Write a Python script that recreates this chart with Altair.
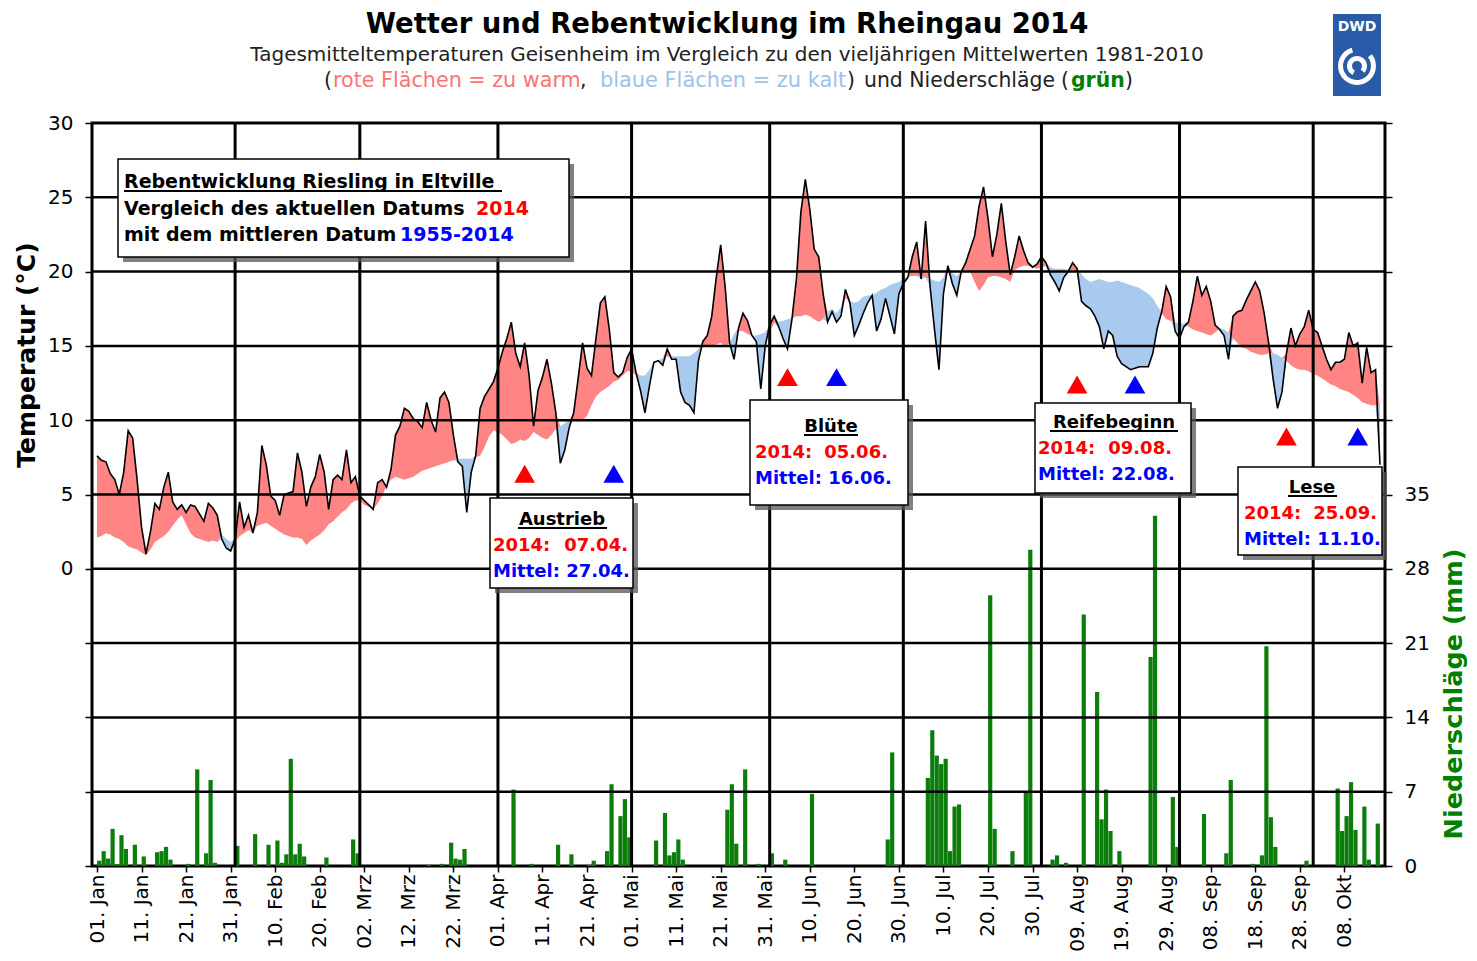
import altair as alt
import pandas as pd

FONT = "DejaVu Sans"
RED_FILL = "#ff8484"
BLUE_FILL = "#a8caee"
GREEN = "#0a7d0a"

# ---------------- data (day 0 = 01 Jan 2014) ----------------
temp_2014 = [
    7.6, 7.3, 7.2, 6.4, 6.0, 5.0, 6.5, 9.3, 8.8, 6.0,
    2.8, 1.0, 2.5, 4.4, 4.0, 5.5, 6.5, 4.5, 4.0, 4.3,
    3.8, 4.3, 4.2, 3.7, 3.2, 4.4, 4.1, 3.6, 2.0, 1.4,
    1.2, 2.0, 4.5, 2.8, 3.6, 2.4, 3.8, 8.3, 7.0, 4.9,
    4.6, 3.6, 5.0, 5.1, 5.2, 7.8, 6.5, 4.2, 5.5, 6.2,
    7.7, 6.5, 4.0, 6.0, 6.3, 6.0, 8.0, 5.8, 6.2, 4.9,
    4.6, 4.3, 4.0, 5.8, 6.0, 5.5, 6.7, 9.0, 9.6, 10.8,
    10.6, 10.1, 9.9, 9.5, 11.2, 10.0, 9.2, 11.5, 11.9, 11.2,
    9.0, 7.2, 6.9, 3.8, 6.5, 7.6, 10.8, 11.6, 12.1, 12.6,
    13.5, 14.6, 15.5, 16.6, 14.5, 13.6, 15.2, 13.0, 9.6, 12.0,
    12.9, 14.1, 12.5, 10.5, 7.1, 8.0, 9.5, 10.5, 12.8, 15.2,
    13.5, 13.0, 15.5, 17.9, 18.3, 16.1, 13.2, 12.9, 13.2, 14.2,
    14.8, 13.2, 12.0, 10.5, 12.3, 13.9, 14.0, 13.7, 14.8, 14.1,
    14.1, 11.9, 11.2, 11.0, 10.5, 14.0, 15.3, 15.7, 17.0, 19.6,
    21.8, 19.0, 15.2, 14.1, 16.2, 17.2, 16.7, 15.7, 15.3, 12.1,
    15.0, 16.4, 17.0, 16.3, 15.5, 14.8, 16.8, 19.5, 24.0, 26.2,
    24.2, 21.5, 21.0, 18.5, 16.6, 17.3, 16.6, 17.0, 18.8, 17.9,
    15.7, 16.4, 17.2, 17.9, 18.4, 16.0, 16.8, 18.2, 17.0, 15.8,
    18.5, 19.2, 19.6, 21.0, 22.0, 19.5, 23.4, 19.0, 16.1, 13.4,
    18.5, 20.4, 19.2, 18.4, 20.0, 20.6, 21.5, 22.4, 24.4, 25.7,
    23.6, 21.0, 22.5, 24.6, 22.0, 19.8, 21.0, 22.4, 21.4, 20.6,
    20.3, 20.5, 21.0, 20.6, 19.8, 19.3, 18.7, 19.6, 20.0, 20.6,
    20.2, 18.0, 17.7, 17.5, 17.0, 16.3, 14.8, 16.0, 15.7, 14.3,
    13.8, 13.6, 13.4, 13.5, 13.6, 13.6, 13.6, 14.5, 16.2, 17.3,
    19.0, 18.3, 16.0, 15.5, 16.3, 16.6, 18.0, 19.7, 18.4, 19.0,
    18.0, 16.4, 16.1, 15.7, 14.1, 17.0, 17.3, 17.4, 18.1, 18.7,
    19.3, 18.7, 17.2, 15.2, 12.8, 10.8, 11.9, 14.5, 16.2, 15.0,
    15.8, 16.3, 17.4, 16.1, 15.9, 15.0, 14.1, 13.4, 13.9, 13.9,
    14.1, 15.9, 15.0, 15.2, 12.5, 14.9, 13.2, 13.4, 7.0,
]

mean_1981_2010 = [
    2.1, 2.2, 2.4, 2.3, 2.1, 2.0, 1.8, 1.5, 1.4, 1.3,
    1.1, 0.9, 1.3, 1.8, 2.0, 2.2, 2.5, 2.9, 3.3, 3.6,
    3.0, 2.4, 2.1, 2.0, 1.9, 1.8, 1.9, 1.8, 2.3, 2.0,
    1.8, 1.8, 2.2, 2.4, 2.6, 2.7, 2.9, 3.0, 3.1, 2.9,
    2.7, 2.5, 2.3, 2.2, 2.1, 2.1, 2.0, 1.6, 1.9, 2.1,
    2.3, 2.6, 3.0, 3.2, 3.5, 3.8, 4.0, 4.4, 4.6, 4.6,
    4.3, 4.2, 4.0, 4.4, 4.9, 5.6, 6.0, 6.2, 6.1, 6.0,
    6.1, 6.2, 6.4, 6.6, 6.7, 6.8, 6.9, 7.0, 7.1, 7.2,
    7.3, 7.4, 7.4, 7.4, 7.4, 7.5, 7.6, 8.2, 8.9, 9.3,
    9.2, 9.0, 8.7, 8.4, 8.5, 8.7, 8.6, 8.8, 9.2, 9.0,
    8.8, 8.7, 9.0, 9.4, 9.6, 9.8, 10.0, 10.1, 9.9, 10.0,
    10.3, 11.0, 11.6, 11.9, 12.1, 12.3, 12.6, 12.7, 13.0, 13.3,
    13.3, 13.0, 13.0, 13.0, 13.4, 13.8, 14.0, 14.2, 14.3, 14.3,
    14.3, 14.3, 14.3, 14.3, 14.5, 14.8, 15.1, 15.0, 14.9, 15.1,
    15.2, 15.0, 15.2, 15.8, 16.0, 16.0, 15.8, 15.7, 15.7, 15.8,
    15.9, 16.0, 16.5, 16.6, 16.7, 16.8, 16.9, 17.0, 17.0, 17.1,
    17.0, 16.8, 16.6, 16.8, 17.3, 17.5, 17.2, 17.6, 18.2, 18.0,
    17.9, 18.0, 18.3, 18.4, 18.4, 18.6, 18.8, 18.9, 19.1, 19.2,
    19.3, 19.5, 19.7, 19.7, 19.7, 19.7, 19.6, 19.5, 19.4, 19.3,
    19.6, 20.0, 19.9, 19.7, 19.9, 20.1, 20.0, 19.3, 18.7, 19.1,
    19.6, 19.7, 19.7, 19.6, 19.5, 19.3, 20.1, 20.3, 20.4, 20.4,
    20.3, 20.2, 20.3, 20.4, 20.3, 20.2, 20.2, 20.2, 20.1, 20.1,
    20.0, 19.8, 19.5, 19.3, 19.4, 19.5, 19.4, 19.3, 19.3, 19.4,
    19.3, 19.2, 19.1, 19.0, 18.9, 18.7, 18.5, 18.2, 17.7, 17.2,
    16.8, 16.7, 16.6, 16.5, 16.5, 16.3, 16.1, 16.0, 15.9, 15.8,
    15.7, 15.9, 16.2, 16.1, 15.9, 15.5, 15.2, 14.9, 14.8, 14.6,
    14.5, 14.4, 14.4, 14.5, 14.5, 14.4, 14.2, 14.0, 13.7, 13.5,
    13.4, 13.4, 13.3, 13.1, 13.0, 12.8, 12.6, 12.4, 12.3, 12.1,
    12.0, 11.9, 11.7, 11.5, 11.2, 11.1, 11.0, 11.0, 10.9,
]

precip_days = [0, 1, 2, 3, 4, 5, 6, 8, 10, 13, 14, 15, 16, 20, 22, 24, 25, 26, 31, 35,
               38, 40, 41, 42, 43, 44, 45, 46, 51, 57, 58,
               74, 77, 79, 80, 81, 82, 93, 97, 103, 106, 110, 111, 114, 115, 117, 118, 119, 125, 127, 128,
               129, 130, 131, 141, 142, 143, 145, 148, 151, 154, 160, 177, 178, 179, 186, 187, 188, 189, 190, 191,
               192, 193, 200, 201, 205, 208, 209, 214, 215, 217, 221, 224, 225, 226, 227, 229, 236, 237, 241, 242,
               248, 253, 254, 259, 261, 262, 263, 264, 271, 278, 279, 280, 281, 282, 284, 285, 287]
precip_mm = [0.5, 1.4, 0.7, 3.5, 0.2, 2.9, 1.6, 2.0, 0.9, 1.3, 1.4, 1.8, 0.6, 0.2, 9.1, 1.2, 8.1, 0.3, 1.9, 3.0,
             2.0, 2.4, 0.3, 1.1, 10.1, 1.1, 2.1, 0.9, 0.8, 2.5, 1.2,
             0.1, 0.2, 2.2, 0.7, 0.6, 1.6, 7.2, 0.2, 2.0, 1.1, 0.1, 0.5, 1.4, 7.7, 4.7, 6.3, 2.7, 2.4, 5.0, 1.0,
             1.3, 2.5, 0.6, 5.3, 7.7, 2.1, 9.1, 0.2, 1.2, 0.6, 6.8, 2.5, 10.7, 0.1, 8.3, 12.8, 10.4, 9.6, 10.1, 1.4,
             5.6, 5.8, 25.5, 3.5, 1.4, 7.0, 29.8, 0.6, 1.0, 0.3, 23.7, 16.4, 4.4, 7.2, 3.3, 1.4, 19.7, 33.0, 6.5, 1.8,
             4.9, 1.2, 8.1, 0.2, 1.0, 20.7, 4.6, 1.8, 0.5, 7.3, 3.3, 4.7, 7.9, 3.4, 5.6, 0.6, 4.0]

tick_days = list(range(0, 281, 10))
tick_labels = ["01. Jan", "11. Jan", "21. Jan", "31. Jan", "10. Feb", "20. Feb", "02. Mrz", "12. Mrz",
               "22. Mrz", "01. Apr", "11. Apr", "21. Apr", "01. Mai", "11. Mai", "21. Mai", "31. Mai",
               "10. Jun", "20. Jun", "30. Jun", "10. Jul", "20. Jul", "30. Jul", "09. Aug", "19. Aug",
               "29. Aug", "08. Sep", "18. Sep", "28. Sep", "08. Okt"]
month_starts = [31, 59, 90, 120, 151, 181, 212, 243, 273]
temp_ticks = list(range(-20, 31, 5))
temp_grid = list(range(-15, 26, 5))
precip_ticks = list(range(0, 71, 7))

phases = ["Austrieb", "Blüte", "Reifebeginn", "Lese"]
date_2014 = ["07.04.", "05.06.", "09.08.", "25.09."]
date_mean = ["27.04.", "16.06.", "22.08.", "11.10."]
day_2014 = [96, 155, 220, 267]
day_mean = [116, 166, 233, 283]
marker_level = [6.4, 12.9, 12.4, 8.9]

assert len(temp_2014) == 289 and len(mean_1981_2010) == 289
assert len(precip_days) == len(precip_mm)

# ---------------- helpers ----------------
X0, Y0 = 92, 123  # page position of plot origin
W, H = 1293, 743


def px(x):
    return x - X0


def py(y):
    return y - Y0


one = pd.DataFrame({"k": [0]})


def text(s, x, y, size, color="black", weight="normal", align="left", angle=0, baseline="alphabetic"):
    return alt.Chart(one).mark_text(
        text=s, font=FONT, fontSize=size, fontWeight=weight, color=color,
        align=align, baseline=baseline, angle=angle
    ).encode(x=alt.value(px(x)), y=alt.value(py(y)))


def rect(x1, y1, x2, y2, **kw):
    return alt.Chart(one).mark_rect(**kw).encode(
        x=alt.value(px(x1)), x2=alt.value(px(x2)), y=alt.value(py(y1)), y2=alt.value(py(y2)))


def box(x1, y1, x2, y2):
    return [rect(x1 + 5, y1 + 5, x2 + 5, y2 + 5, color="#555555", opacity=0.75),
            rect(x1, y1, x2, y2, fill="white", stroke="black", strokeWidth=1.5)]


def uline(x1, x2, y):
    return alt.Chart(one).mark_rule(color="black", strokeWidth=2).encode(
        x=alt.value(px(x1)), x2=alt.value(px(x2)), y=alt.value(py(y)))


XS = alt.Scale(domain=[0, 288], nice=False, zero=False)
YS = alt.Scale(domain=[-20, 30], nice=False, zero=False)
PS = alt.Scale(domain=[0, 70], nice=False, zero=True)

label_array = "[" + ",".join("'%s'" % s for s in tick_labels) + "]"
XAXIS = alt.Axis(values=tick_days, labelExpr=label_array + "[round(datum.value/10)]",
                 labelAngle=270, tickSize=6, tickColor="black", tickWidth=1.5, domain=False,
                 grid=False, labelFont=FONT, labelFontSize=20, labelColor="black", labelPadding=2,
                 labelOverlap=False, labelFlush=False, labelBound=False, title=None)
YAXIS = alt.Axis(values=temp_ticks, labelExpr="datum.value < 0 ? '' : datum.label", tickSize=7,
                 tickColor="black", tickWidth=1.5, domain=False, grid=False, labelFont=FONT,
                 labelFontSize=20, labelColor="black", labelPadding=12, title=None)
PAXIS = alt.Axis(orient="right", values=precip_ticks, labelExpr="datum.value > 35 ? '' : datum.label",
                 tickSize=7, tickColor="black", tickWidth=1.5, domain=False, grid=False, labelFont=FONT,
                 labelFontSize=20, labelColor="black", labelPadding=12, title=None)


def X(field):
    return alt.X(field, scale=XS, axis=XAXIS)


# ---------------- temperature areas ----------------
df = pd.DataFrame({"day": list(range(289)), "t": temp_2014, "m": mean_1981_2010})
base = alt.Chart(df).transform_calculate(hi="max(datum.t, datum.m)", lo="min(datum.t, datum.m)")
red_area = base.mark_area(color=RED_FILL, opacity=1).encode(
    x=X("day:Q"), y=alt.Y("hi:Q", scale=YS, axis=YAXIS), y2="m:Q")
blue_area = base.mark_area(color=BLUE_FILL, opacity=1).encode(
    x=X("day:Q"), y=alt.Y("lo:Q", scale=YS, axis=YAXIS), y2="m:Q")
bottom = alt.layer(red_area, blue_area)

# ---------------- precipitation ----------------
dfp = pd.DataFrame({"day": precip_days, "mm": precip_mm})
precip = alt.Chart(dfp).transform_calculate(pos="datum.day + 0.5").mark_bar(
    width=4.2, color=GREEN).encode(
    x=X("pos:Q"), y=alt.Y("mm:Q", scale=PS, axis=PAXIS))

# ---------------- grid, line, markers ----------------
hgrid = alt.Chart(pd.DataFrame({"t": temp_grid})).mark_rule(color="black", strokeWidth=2.5).encode(
    y=alt.Y("t:Q", scale=YS, axis=None))
vgrid = alt.Chart(pd.DataFrame({"d": month_starts})).mark_rule(color="black", strokeWidth=3).encode(
    x=X("d:Q"))
tline = alt.Chart(df).mark_line(color="black", strokeWidth=1.6).encode(
    x=X("day:Q"), y=alt.Y("t:Q", scale=YS, axis=None))

dft = pd.DataFrame({"day": day_2014 + day_mean, "lvl": marker_level + marker_level,
                    "kind": ["2014"] * 4 + ["Mittel"] * 4})
tri = alt.Chart(dft).mark_point(shape="triangle-up", filled=True, size=430, opacity=1).encode(
    x=X("day:Q"), y=alt.Y("lvl:Q", scale=YS, axis=None),
    color=alt.Color("kind:N", scale=alt.Scale(domain=["2014", "Mittel"], range=["#ff0000", "#0000ff"]),
                    legend=None))

layers = [hgrid, vgrid, tline, tri]

# legend box
layers += box(118, 159, 569, 257)
layers += [
    text("Rebentwicklung Riesling in Eltville", 124, 188, 19, weight="bold"),
    uline(124, 502, 191),
    text("Vergleich des aktuellen Datums", 124, 215, 19, weight="bold"),
    text("2014", 476, 215, 19, color="#ff0000", weight="bold"),
    text("mit dem mittleren Datum", 124, 241, 19, weight="bold"),
    text("1955-2014", 400, 241, 19, color="#0000ff", weight="bold"),
]

# phase boxes
boxes = [  # x1, y1, x2, y2, title-center, title-baseline, underline x1, x2, left text x, right end
    (490, 498, 633, 588, 562, 525, 518, 607, 493, 628),
    (750, 400, 908, 505, 831, 432, 804, 858, 755, 888),
    (1035, 403, 1191, 493, 1114, 428, 1050, 1178, 1038, 1172),
    (1238, 467, 1382, 555, 1312, 493, 1288, 1337, 1244, 1377),
]
for i, (x1, y1, x2, y2, cx, tb, u1, u2, lx, rx) in enumerate(boxes):
    layers += box(x1, y1, x2, y2)
    layers += [
        text(phases[i], cx, tb, 18, weight="bold", align="center"),
        uline(u1, u2, tb + 3),
        text("2014:", lx, tb + 26, 18, color="#ff0000", weight="bold"),
        text(date_2014[i], rx, tb + 26, 18, color="#ff0000", weight="bold", align="right"),
        text("Mittel: " + date_mean[i], lx, tb + 52, 18, color="#0000ff", weight="bold"),
    ]

# titles
layers += [
    text("Wetter und Rebentwicklung im Rheingau 2014", 727, 33, 27.5, weight="bold", align="center"),
    text("Tagesmitteltemperaturen Geisenheim im Vergleich zu den vieljährigen Mittelwerten 1981-2010",
         727, 61, 20, color="#222222", align="center"),
    text("(", 324, 87, 20.5, color="#222222"),
    text("rote Flächen = zu warm", 333, 87, 20.7, color="#ff7373"),
    text(",", 580, 87, 20.5, color="#222222"),
    text("blaue Flächen = zu kalt", 600, 87, 20.9, color="#9cc3ec"),
    text(")", 847, 87, 20.5, color="#222222"),
    text("und Niederschläge", 864, 87, 20.4, color="#222222"),
    text("(", 1061, 87, 20.4, color="#222222"),
    text("grün", 1071, 87, 20.4, color="#008000", weight="bold"),
    text(")", 1125, 87, 20.4, color="#222222"),
    text("Temperatur (°C)", 35, 355, 25, weight="bold", align="center", angle=270),
    text("Niederschläge (mm)", 1462, 694, 25.5, color="#008000", weight="bold", align="center", angle=270),
]

# DWD logo
layers += [
    rect(1333, 14, 1381, 96, color="#2a5ba8"),
    text("DWD", 1357, 31, 14, color="white", weight="bold", align="center"),
    alt.Chart(one).mark_arc(radius=19, radius2=14, theta=0.9, theta2=6.0, color="white").encode(
        x=alt.value(px(1357)), y=alt.value(py(66))),
    alt.Chart(one).mark_arc(radius=10, radius2=5, theta=3.6, theta2=8.6, color="white").encode(
        x=alt.value(px(1357)), y=alt.value(py(66))),
]

top = alt.layer(*layers)

chart = alt.layer(bottom, precip, top).resolve_scale(y="independent").properties(
    width=W, height=H,
    autosize=alt.AutoSizeParams(type="none"),
    padding={"left": 84, "top": 115, "right": 84, "bottom": 87},
    background="white",
).configure_view(stroke="black", strokeWidth=3)

chart.save("out.html", embed_options={"renderer": "svg", "actions": False})
